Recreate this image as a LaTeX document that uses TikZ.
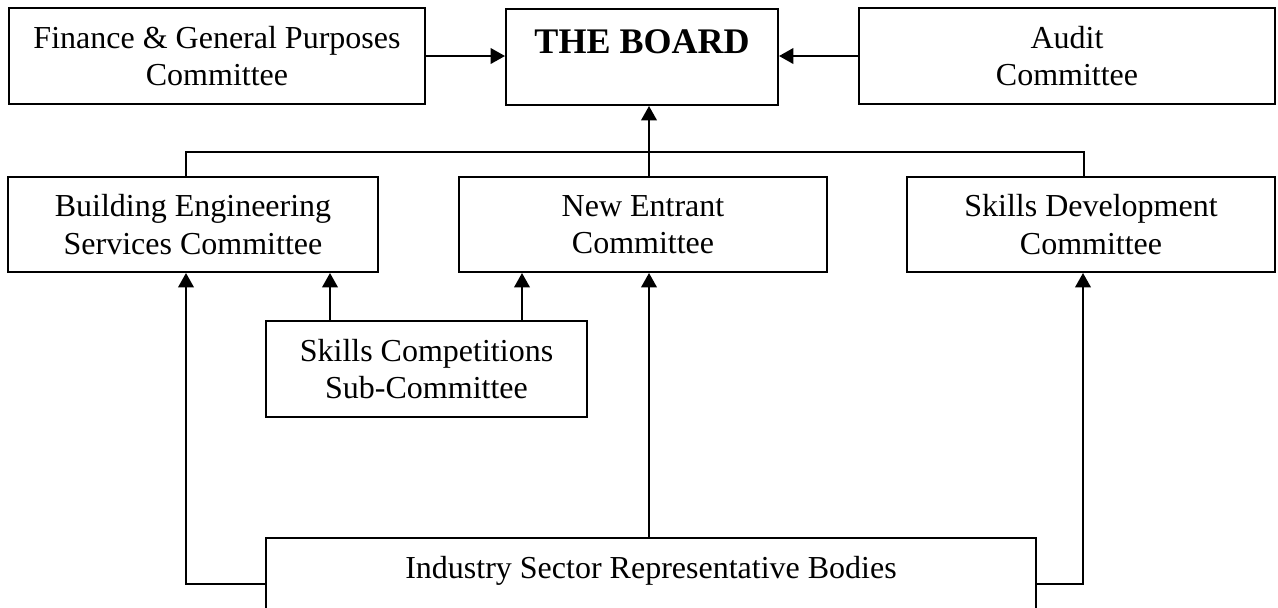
\documentclass[tikz,border=0pt]{standalone}
\usepackage{fontspec}
\setmainfont{Liberation Serif}
\usetikzlibrary{arrows.meta}
\begin{document}
\begin{tikzpicture}[x=0.5pt,y=-0.5pt,
  box/.style={draw, line width=1pt, align=center, inner sep=0pt,
    font=\fontsize{16}{18.8}\selectfont},
  arr/.style={line width=1pt, -{Triangle[length=7.2pt,width=7.8pt]}},
  ln/.style={line width=1pt}]
\clip (0,0) rectangle (1278,607);
% top row
\node[box, minimum width=208pt, minimum height=48pt] (fin) at (217,56)
  {Finance \& General Purposes\\Committee};
\node[box, minimum width=136pt, anchor=north, text height=22pt, text depth=26pt,
  font=\fontsize{18}{20}\selectfont\bfseries] (board) at (642,8) {THE BOARD};
\node[box, minimum width=208pt, minimum height=48pt] (aud) at (1067,56)
  {Audit\\Committee};
% second row
\node[box, minimum width=185pt, minimum height=47.5pt] (bes) at (193,224.5)
  {Building Engineering\\Services Committee};
\node[box, minimum width=184pt, minimum height=47.5pt] (ne) at (643,224.5)
  {New Entrant\\Committee};
\node[box, minimum width=184pt, minimum height=47.5pt] (sd) at (1091,224.5)
  {Skills Development\\Committee};
% sub-committee
\node[box, minimum width=160.5pt, minimum height=48pt] (sub) at (426.5,369)
  {Skills Competitions\\Sub-Committee};
% bottom
\node[box, minimum width=385pt, anchor=north, text height=20pt, text depth=45pt] (isrb) at (651,537)
  {Industry Sector Representative Bodies};
% helper coordinates
\coordinate (jl) at (186,152);
\coordinate (jr) at (1084,152);
\coordinate (mid) at (649,0);
\coordinate (s1) at (330,0);
\coordinate (s2) at (522,0);
\coordinate (bl) at (186,584);
\coordinate (br) at (1083,584);
% connectors
\draw[arr] (fin.east) -- (fin.east -| board.west);
\draw[arr] (aud.west) -- (aud.west -| board.east);
\draw[ln] (bes.north -| jl) -- (jl) -- (jr) -- (sd.north -| jr);
\draw[arr] (ne.north -| mid) -- (board.south -| mid);
\draw[arr] (sub.north -| s1) -- (bes.south -| s1);
\draw[arr] (sub.north -| s2) -- (ne.south -| s2);
\draw[arr] (isrb.west |- bl) -- (bl) -- (bes.south -| bl);
\draw[arr] (isrb.east |- br) -- (br) -- (sd.south -| br);
\draw[arr] (isrb.north -| mid) -- (ne.south -| mid);
\end{tikzpicture}
\end{document}
